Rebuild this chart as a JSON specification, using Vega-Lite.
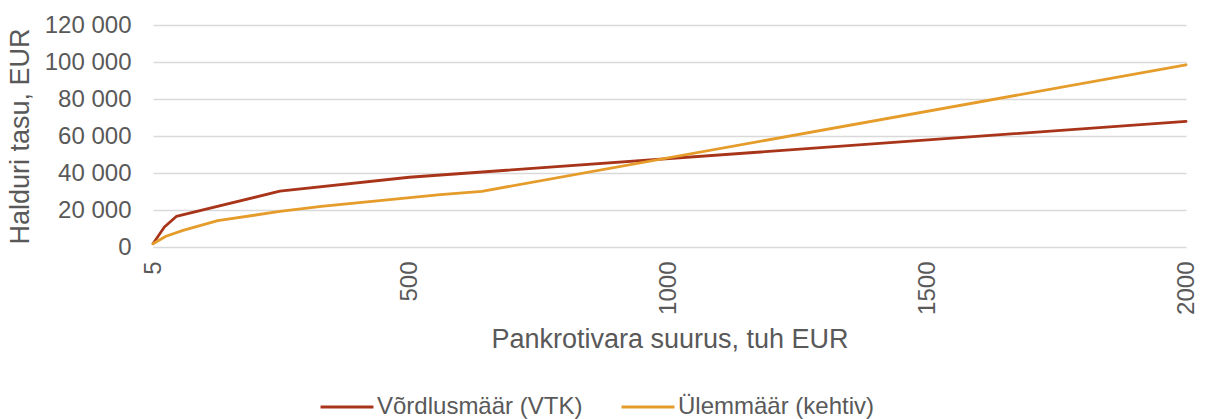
{
  "$schema": "https://vega.github.io/schema/vega-lite/v6.json",
  "autosize": {"type": "none"},
  "width": 1033,
  "height": 222,
  "padding": {"left": 153, "top": 25, "right": 20, "bottom": 172},
  "background": "white",
  "config": {
    "locale": {"number": {"decimal": ",", "thousands": " ", "grouping": [3], "currency": ["", " €"]}},
    "font": "Liberation Sans",
    "view": {"stroke": null},
    "axis": {
      "labelFont": "Liberation Sans",
      "titleFont": "Liberation Sans",
      "labelFontSize": 24,
      "titleFontSize": 27,
      "labelColor": "#595959",
      "titleColor": "#595959",
      "titleFontWeight": "normal",
      "domain": false,
      "ticks": false,
      "tickSize": 0
    },
    "legend": {
      "labelFont": "Liberation Sans",
      "labelFontSize": 24,
      "labelColor": "#595959",
      "labelLimit": 500
    }
  },
  "data": {
    "values": [
      {"series": "Võrdlusmäär (VTK)", "x": 5, "y": 1800},
      {"series": "Võrdlusmäär (VTK)", "x": 27, "y": 10800},
      {"series": "Võrdlusmäär (VTK)", "x": 50, "y": 16500},
      {"series": "Võrdlusmäär (VTK)", "x": 250, "y": 30200},
      {"series": "Võrdlusmäär (VTK)", "x": 500, "y": 37700},
      {"series": "Võrdlusmäär (VTK)", "x": 2000, "y": 67900},
      {"series": "Ülemmäär (kehtiv)", "x": 5, "y": 1800},
      {"series": "Ülemmäär (kehtiv)", "x": 30, "y": 5800},
      {"series": "Ülemmäär (kehtiv)", "x": 63, "y": 9000},
      {"series": "Ülemmäär (kehtiv)", "x": 130, "y": 14300},
      {"series": "Ülemmäär (kehtiv)", "x": 250, "y": 19200},
      {"series": "Ülemmäär (kehtiv)", "x": 330, "y": 22000},
      {"series": "Ülemmäär (kehtiv)", "x": 560, "y": 28300},
      {"series": "Ülemmäär (kehtiv)", "x": 640, "y": 30100},
      {"series": "Ülemmäär (kehtiv)", "x": 2000, "y": 98500}
    ]
  },
  "mark": {"type": "line", "strokeWidth": 2.8, "strokeJoin": "round", "strokeCap": "round"},
  "encoding": {
    "x": {
      "field": "x",
      "type": "quantitative",
      "scale": {"domain": [5, 2000], "nice": false, "zero": false},
      "axis": {
        "values": [5, 500, 1000, 1500, 2000],
        "format": "d",
        "labelAngle": -90,
        "labelPadding": 14,
        "grid": false,
        "title": "Pankrotivara suurus, tuh EUR",
        "titlePadding": 12
      }
    },
    "y": {
      "field": "y",
      "type": "quantitative",
      "scale": {"domain": [0, 120000], "nice": false},
      "axis": {
        "values": [0, 20000, 40000, 60000, 80000, 100000, 120000],
        "format": ",d",
        "labelPadding": 22,
        "grid": true,
        "gridColor": "#d9d9d9",
        "gridWidth": 1.3,
        "title": "Halduri tasu, EUR",
        "titlePadding": 10
      }
    },
    "color": {
      "field": "series",
      "type": "nominal",
      "scale": {"domain": ["Võrdlusmäär (VTK)", "Ülemmäär (kehtiv)"], "range": ["#a8341a", "#e59c2b"]},
      "legend": {
        "title": null,
        "orient": "none",
        "direction": "horizontal",
        "legendX": 166,
        "legendY": 354,
        "symbolType": "stroke",
        "symbolSize": 2800,
        "symbolStrokeWidth": 3,
        "labelOffset": 2,
        "columnPadding": 32
      }
    }
  }
}
